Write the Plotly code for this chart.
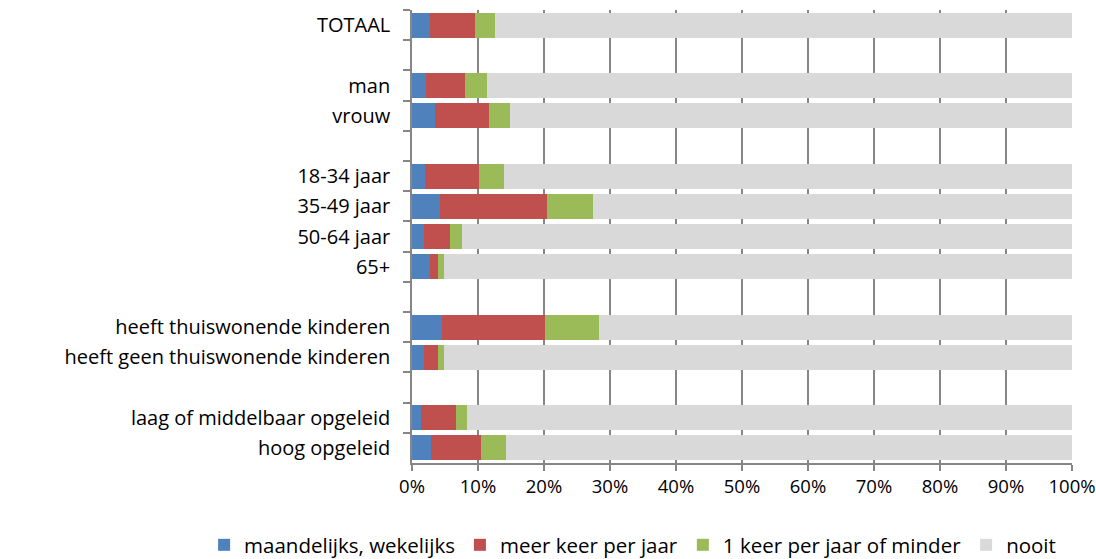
import plotly.graph_objects as go

categories = ["TOTAAL", " ", "man", "vrouw", "  ", "18-34 jaar", "35-49 jaar", "50-64 jaar", "65+",
              "   ", "heeft thuiswonende kinderen", "heeft geen thuiswonende kinderen", "    ",
              "laag of middelbaar opgeleid", "hoog opgeleid"]

maandelijks = [2.7, None, 2.1, 3.5, None, 1.9, 4.2, 1.8, 2.8, None, 4.6, 1.8, None, 1.3, 2.9]
meer_keer = [6.8, None, 6.0, 8.1, None, 8.3, 16.2, 3.9, 1.1, None, 15.6, 2.2, None, 5.3, 7.6]
een_keer = [3.1, None, 3.3, 3.2, None, 3.7, 7.0, 1.9, 1.0, None, 8.1, 0.9, None, 1.8, 3.7]
nooit = [87.4, None, 88.6, 85.2, None, 86.1, 72.6, 92.4, 95.1, None, 71.7, 95.1, None, 91.6, 85.8]

series = [
    ("maandelijks, wekelijks", maandelijks, "#4F81BD"),
    ("meer keer per jaar", meer_keer, "#C0504D"),
    ("1 keer per jaar of minder", een_keer, "#9BBB59"),
    ("nooit", nooit, "#D9D9D9"),
]

fig = go.Figure()
for name, vals, color in series:
    fig.add_trace(go.Bar(
        y=categories,
        x=[v / 100 if v is not None else None for v in vals],
        name=name, orientation="h",
        marker=dict(color=color, line=dict(width=0)),
    ))

font_family = "'Open Sans', 'Noto Sans', sans-serif"
fig.update_layout(
    barmode="stack",
    bargap=0.17,
    width=1096, height=559,
    margin=dict(l=412, r=24, t=10, b=96, autoexpand=False),
    plot_bgcolor="white", paper_bgcolor="white",
    font=dict(family=font_family, color="#000000"),
    showlegend=True,
    legend=dict(orientation="h", x=-0.315, xanchor="left", y=-0.181, yanchor="middle",
                font=dict(size=20.5), itemwidth=30, traceorder="normal"),
    xaxis=dict(range=[0, 1], dtick=0.1, tickformat=".0%", showgrid=True,
               gridcolor="#868686", gridwidth=1.5, showline=True, linecolor="#868686", linewidth=1.5,
               ticks="outside", ticklen=6, tickcolor="#868686", tickwidth=1.5,
               tickfont=dict(size=18.5), zeroline=False),
    yaxis=dict(type="category", categoryorder="array", categoryarray=categories,
               autorange="reversed", showgrid=False, showline=True, linecolor="#868686",
               linewidth=1.5, ticks="outside", ticklen=7, tickcolor="#868686", tickwidth=1.5,
               tickson="boundaries", ticklabelstandoff=16, tickfont=dict(size=20)),
)

fig.write_html("out.html", config={"displayModeBar": False},
               post_script="document.body.style.margin='0';document.body.style.overflow='hidden';")
